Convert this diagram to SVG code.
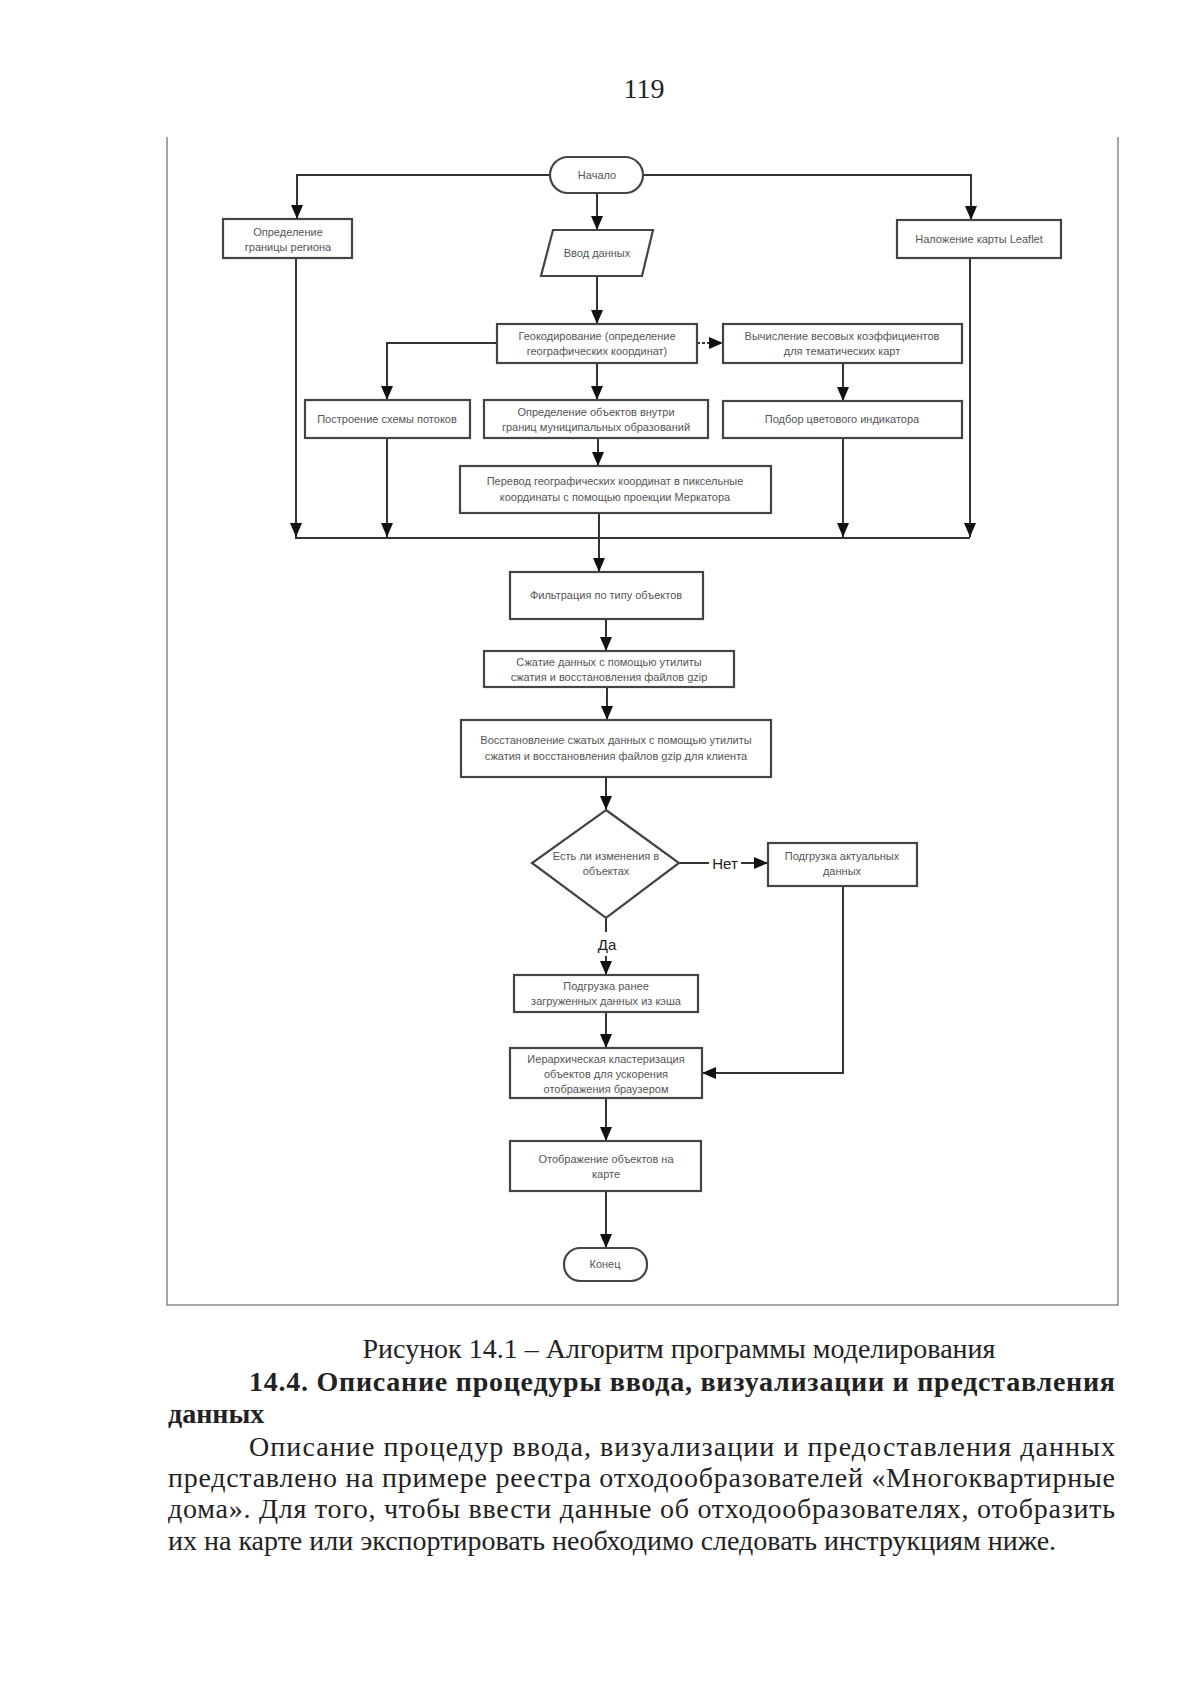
<svg xmlns="http://www.w3.org/2000/svg" width="1200" height="1699" viewBox="0 0 1200 1699">
<defs>
<marker id="ah" markerUnits="userSpaceOnUse" markerWidth="14" markerHeight="12" viewBox="0 0 14 12" refX="14" refY="6" orient="auto">
<path d="M0,0 L14,6 L0,12 Z" fill="#111"/>
</marker>
</defs>
<style>
.box{fill:#fff;stroke:#444;stroke-width:2.2}
.t{font-family:"Liberation Sans",Arial,sans-serif;font-size:11px;fill:#555;text-anchor:middle}
.lbl{font-family:"Liberation Sans",Arial,sans-serif;font-size:15px;fill:#222;text-anchor:middle}
.c{fill:none;stroke:#333;stroke-width:2}
.frame{fill:none;stroke:#888;stroke-width:1.5}
.pg{font-family:"Liberation Serif","Times New Roman",serif;font-size:28px;fill:#222}
</style>
<rect width="1200" height="1699" fill="#fff"/>
<text class="pg" x="644" y="98" text-anchor="middle">119</text>
<path class="frame" d="M167,137 L167,1305 L1118,1305 L1118,137"/>

<g id="connectors">
<path class="c" d="M550,175 L297,175 L297,219" marker-end="url(#ah)"/>
<path class="c" d="M643,175 L971,175 L971,220" marker-end="url(#ah)"/>
<path class="c" d="M597,193 L597,230" marker-end="url(#ah)"/>
<path class="c" d="M597,276 L597,324" marker-end="url(#ah)"/>
<path class="c" d="M697,343 L723,343" stroke-dasharray="3,2" marker-end="url(#ah)"/>
<path class="c" d="M497,343 L387,343 L387,400" marker-end="url(#ah)"/>
<path class="c" d="M597,363 L597,400" marker-end="url(#ah)"/>
<path class="c" d="M843,363 L843,401" marker-end="url(#ah)"/>
<path class="c" d="M598,438 L598,466" marker-end="url(#ah)"/>
<path class="c" d="M295,538 L970,538"/>
<path class="c" d="M296,258 L296,537" marker-end="url(#ah)"/>
<path class="c" d="M387,438 L387,537" marker-end="url(#ah)"/>
<path class="c" d="M843,438 L843,537" marker-end="url(#ah)"/>
<path class="c" d="M970,258 L970,537" marker-end="url(#ah)"/>
<path class="c" d="M599,513 L599,572" marker-end="url(#ah)"/>
<path class="c" d="M606,619 L606,651" marker-end="url(#ah)"/>
<path class="c" d="M607,687 L607,720" marker-end="url(#ah)"/>
<path class="c" d="M606,777 L606,810" marker-end="url(#ah)"/>
<path class="c" d="M679,863 L709,863"/>
<path class="c" d="M741,863 L768,863" marker-end="url(#ah)"/>
<path class="c" d="M606,918 L606,932"/>
<path class="c" d="M606,956 L606,975" marker-end="url(#ah)"/>
<path class="c" d="M606,1012 L606,1048" marker-end="url(#ah)"/>
<path class="c" d="M843,886 L843,1073 L702,1073" marker-end="url(#ah)"/>
<path class="c" d="M606,1098 L606,1141" marker-end="url(#ah)"/>
<path class="c" d="M606,1191 L606,1248" marker-end="url(#ah)"/>
<text class="lbl" x="725" y="869">Нет</text>
<text class="lbl" x="607" y="950">Да</text>
</g>

<g id="start"><rect class="box" x="550" y="157" width="93" height="36" rx="18"/><text class="t" x="597" y="179">Начало</text></g>
<g id="region"><rect class="box" x="223" y="219" width="129" height="39"/><text class="t" x="288" y="236">Определение</text><text class="t" x="288" y="251">границы региона</text></g>
<g id="leaflet"><rect class="box" x="897" y="220" width="164" height="38"/><text class="t" x="979" y="243">Наложение карты Leaflet</text></g>
<g id="input"><polygon class="box" points="553,230 653,230 642,276 541,276"/><text class="t" x="597" y="257">Ввод данных</text></g>
<g id="geocode"><rect class="box" x="497" y="324" width="200" height="39"/><text class="t" x="597" y="340">Геокодирование (определение</text><text class="t" x="597" y="355">географических координат)</text></g>
<g id="weights"><rect class="box" x="723" y="324" width="239" height="39"/><text class="t" x="842" y="340">Вычисление весовых коэффициентов</text><text class="t" x="842" y="355">для тематических карт</text></g>
<g id="flows"><rect class="box" x="305" y="400" width="165" height="38"/><text class="t" x="387" y="423">Построение схемы потоков</text></g>
<g id="municip"><rect class="box" x="484" y="400" width="224" height="38"/><text class="t" x="596" y="416">Определение объектов внутри</text><text class="t" x="596" y="431">границ муниципальных образований</text></g>
<g id="color"><rect class="box" x="723" y="401" width="239" height="37"/><text class="t" x="842" y="423">Подбор цветового индикатора</text></g>
<g id="mercator"><rect class="box" x="460" y="466" width="311" height="47"/><text class="t" x="615" y="485">Перевод географических координат в пиксельные</text><text class="t" x="615" y="501">координаты с помощью проекции Меркатора</text></g>
<g id="filter"><rect class="box" x="510" y="572" width="193" height="47"/><text class="t" x="606" y="599">Фильтрация по типу объектов</text></g>
<g id="gzip"><rect class="box" x="484" y="651" width="250" height="36"/><text class="t" x="609" y="666">Сжатие данных с помощью утилиты</text><text class="t" x="609" y="681">сжатия и восстановления файлов gzip</text></g>
<g id="restore"><rect class="box" x="461" y="720" width="310" height="57"/><text class="t" x="616" y="744">Восстановление сжатых данных с помощью утилиты</text><text class="t" x="616" y="760">сжатия и восстановления файлов gzip для клиента</text></g>
<g id="decision"><polygon class="box" points="606,810 679,863 606,918 532,863"/><text class="t" x="606" y="860">Есть ли изменения в</text><text class="t" x="606" y="875">объектах</text></g>
<g id="actual"><rect class="box" x="768" y="843" width="149" height="43"/><text class="t" x="842" y="860">Подгрузка  актуальных</text><text class="t" x="842" y="875">данных</text></g>
<g id="cache"><rect class="box" x="514" y="975" width="184" height="37"/><text class="t" x="606" y="990">Подгрузка  ранее</text><text class="t" x="606" y="1005">загруженных данных из кэша</text></g>
<g id="cluster"><rect class="box" x="510" y="1048" width="192" height="50"/><text class="t" x="606" y="1063">Иерархическая кластеризация</text><text class="t" x="606" y="1078">объектов для ускорения</text><text class="t" x="606" y="1093">отображения браузером</text></g>
<g id="display"><rect class="box" x="510" y="1141" width="191" height="50"/><text class="t" x="606" y="1163">Отображение  объектов на</text><text class="t" x="606" y="1178">карте</text></g>
<g id="end"><rect class="box" x="564" y="1248" width="83" height="33" rx="16"/><text class="t" x="605" y="1268">Конец</text></g>

<g id="bodytext" font-family="'Liberation Serif','Times New Roman',serif" font-size="28" fill="#222">
<text x="679" y="1358" text-anchor="middle">Рисунок 14.1 – Алгоритм программы моделирования</text>
<text x="249" y="1391" font-weight="bold" textLength="866" lengthAdjust="spacing">14.4. Описание процедуры ввода, визуализации и представления</text>
<text x="168" y="1423" font-weight="bold">данных</text>
<text x="249" y="1456" textLength="866" lengthAdjust="spacing">Описание процедур ввода, визуализации и предоставления данных</text>
<text x="168" y="1487" textLength="947" lengthAdjust="spacing">представлено на примере реестра отходообразователей «Многоквартирные</text>
<text x="168" y="1518" textLength="947" lengthAdjust="spacing">дома». Для того, чтобы ввести данные об отходообразователях, отобразить</text>
<text x="168" y="1550">их на карте или экспортировать необходимо следовать инструкциям ниже.</text>
</g>
</svg>
